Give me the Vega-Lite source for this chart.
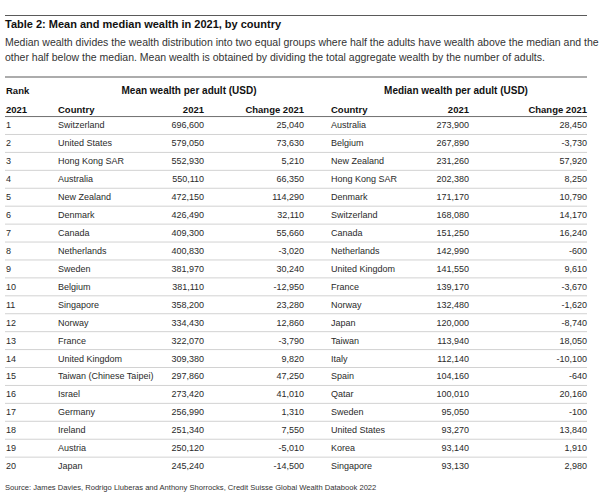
{
  "$schema": "https://vega.github.io/schema/vega-lite/v6.json",
  "width": 603,
  "height": 500,
  "autosize": {"type": "none"},
  "padding": 0,
  "background": "white",
  "config": {
    "view": {"stroke": null},
    "font": "Liberation Sans",
    "text": {"font": "Liberation Sans"},
    "locale": {"number": {"decimal": ".", "thousands": ",", "grouping": [3], "currency": ["$", ""], "minus": "-"}}
  },
  "data": {
    "values": [
      {"rank": 1, "country": "Switzerland", "mean": 696600, "mean_change": 25040, "median_country": "Australia", "median": 273900, "median_change": 28450},
      {"rank": 2, "country": "United States", "mean": 579050, "mean_change": 73630, "median_country": "Belgium", "median": 267890, "median_change": -3730},
      {"rank": 3, "country": "Hong Kong SAR", "mean": 552930, "mean_change": 5210, "median_country": "New Zealand", "median": 231260, "median_change": 57920},
      {"rank": 4, "country": "Australia", "mean": 550110, "mean_change": 66350, "median_country": "Hong Kong SAR", "median": 202380, "median_change": 8250},
      {"rank": 5, "country": "New Zealand", "mean": 472150, "mean_change": 114290, "median_country": "Denmark", "median": 171170, "median_change": 10790},
      {"rank": 6, "country": "Denmark", "mean": 426490, "mean_change": 32110, "median_country": "Switzerland", "median": 168080, "median_change": 14170},
      {"rank": 7, "country": "Canada", "mean": 409300, "mean_change": 55660, "median_country": "Canada", "median": 151250, "median_change": 16240},
      {"rank": 8, "country": "Netherlands", "mean": 400830, "mean_change": -3020, "median_country": "Netherlands", "median": 142990, "median_change": -600},
      {"rank": 9, "country": "Sweden", "mean": 381970, "mean_change": 30240, "median_country": "United Kingdom", "median": 141550, "median_change": 9610},
      {"rank": 10, "country": "Belgium", "mean": 381110, "mean_change": -12950, "median_country": "France", "median": 139170, "median_change": -3670},
      {"rank": 11, "country": "Singapore", "mean": 358200, "mean_change": 23280, "median_country": "Norway", "median": 132480, "median_change": -1620},
      {"rank": 12, "country": "Norway", "mean": 334430, "mean_change": 12860, "median_country": "Japan", "median": 120000, "median_change": -8740},
      {"rank": 13, "country": "France", "mean": 322070, "mean_change": -3790, "median_country": "Taiwan", "median": 113940, "median_change": 18050},
      {"rank": 14, "country": "United Kingdom", "mean": 309380, "mean_change": 9820, "median_country": "Italy", "median": 112140, "median_change": -10100},
      {"rank": 15, "country": "Taiwan (Chinese Taipei)", "mean": 297860, "mean_change": 47250, "median_country": "Spain", "median": 104160, "median_change": -640},
      {"rank": 16, "country": "Israel", "mean": 273420, "mean_change": 41010, "median_country": "Qatar", "median": 100010, "median_change": 20160},
      {"rank": 17, "country": "Germany", "mean": 256990, "mean_change": 1310, "median_country": "Sweden", "median": 95050, "median_change": -100},
      {"rank": 18, "country": "Ireland", "mean": 251340, "mean_change": 7550, "median_country": "United States", "median": 93270, "median_change": 13840},
      {"rank": 19, "country": "Austria", "mean": 250120, "mean_change": -5010, "median_country": "Korea", "median": 93140, "median_change": 1910},
      {"rank": 20, "country": "Japan", "mean": 245240, "mean_change": -14500, "median_country": "Singapore", "median": 93130, "median_change": 2980}
    ]
  },
  "layer": [
    {
      "data": {"values": [{}]},
      "mark": {"type": "rule", "color": "#5a5a5a", "strokeWidth": 1.2, "yOffset": 15.5},
      "encoding": {
        "x": {"datum": 0, "type": "quantitative", "axis": null, "scale": {"domain": [0, 1, 2, 3, 4, 5, 6, 7, 8, 9], "range": [5, 6, 58, 189, 204, 304, 331, 456, 469, 587], "nice": false, "zero": false}},
        "x2": {"datum": 9},
        "y": {"datum": "L0", "type": "ordinal", "axis": null, "scale": {"type": "point", "padding": 0, "range": [0, 484], "domain": ["L0", "T", "S1", "S2", "L1", "h1", "h2", 1, 2, 3, 4, 5, 6, 7, 8, 9, 10, 11, 12, 13, 14, 15, 16, 17, 18, 19, 20, "src"]}}
      }
    },
    {
      "data": {"values": [{}]},
      "mark": {"type": "rule", "color": "#5a5a5a", "strokeWidth": 1.2, "yOffset": 5.3},
      "encoding": {"x": {"datum": 0, "type": "quantitative"}, "x2": {"datum": 9}, "y": {"datum": "L1", "type": "ordinal"}}
    },
    {
      "data": {"values": [{}]},
      "mark": {"type": "rule", "color": "#707070", "strokeWidth": 1, "yOffset": 9},
      "encoding": {"x": {"datum": 0, "type": "quantitative"}, "x2": {"datum": 9}, "y": {"datum": "h2", "type": "ordinal"}}
    },
    {
      "transform": [{"filter": "datum.rank < 20"}],
      "mark": {"type": "rule", "color": "#d2d2d2", "strokeWidth": 1, "yOffset": 9},
      "encoding": {"x": {"datum": 0, "type": "quantitative"}, "x2": {"datum": 9}, "y": {"field": "rank", "type": "ordinal"}}
    },
    {
      "data": {"values": [{}]},
      "mark": {"type": "text", "text": "Table 2: Mean and median wealth in 2021, by country", "align": "left", "baseline": "middle", "fontSize": 11, "fontWeight": "bold", "color": "#111111", "yOffset": 7},
      "encoding": {"x": {"datum": 0, "type": "quantitative"}, "y": {"datum": "T", "type": "ordinal"}}
    },
    {
      "data": {"values": [{}]},
      "mark": {"type": "text", "text": "Median wealth divides the wealth distribution into two equal groups where half the adults have wealth above the median and the", "align": "left", "baseline": "middle", "fontSize": 10.5, "color": "#333333", "yOffset": 7},
      "encoding": {"x": {"datum": 0, "type": "quantitative"}, "y": {"datum": "S1", "type": "ordinal"}}
    },
    {
      "data": {"values": [{}]},
      "mark": {"type": "text", "text": "other half below the median. Mean wealth is obtained by dividing the total aggregate wealth by the number of adults.", "align": "left", "baseline": "middle", "fontSize": 10.5, "color": "#333333", "yOffset": 4},
      "encoding": {"x": {"datum": 0, "type": "quantitative"}, "y": {"datum": "S2", "type": "ordinal"}}
    },
    {
      "data": {"values": [{}]},
      "mark": {"type": "text", "text": "Rank", "align": "left", "baseline": "middle", "fontSize": 9.5, "fontWeight": "bold", "color": "#111111", "yOffset": 1.5},
      "encoding": {"x": {"datum": 1, "type": "quantitative"}, "y": {"datum": "h1", "type": "ordinal"}}
    },
    {
      "data": {"values": [{}]},
      "mark": {"type": "text", "text": "Mean wealth per adult (USD)", "align": "center", "baseline": "middle", "fontSize": 10, "fontWeight": "bold", "color": "#111111", "yOffset": 1.5},
      "encoding": {"x": {"datum": 3, "type": "quantitative"}, "y": {"datum": "h1", "type": "ordinal"}}
    },
    {
      "data": {"values": [{}]},
      "mark": {"type": "text", "text": "Median wealth per adult (USD)", "align": "center", "baseline": "middle", "fontSize": 10, "fontWeight": "bold", "color": "#111111", "yOffset": 1.5},
      "encoding": {"x": {"datum": 7, "type": "quantitative"}, "y": {"datum": "h1", "type": "ordinal"}}
    },
    {
      "data": {"values": [{}]},
      "mark": {"type": "text", "text": "2021", "align": "left", "baseline": "middle", "fontSize": 9.5, "fontWeight": "bold", "color": "#111111", "yOffset": 2.5},
      "encoding": {"x": {"datum": 1, "type": "quantitative"}, "y": {"datum": "h2", "type": "ordinal"}}
    },
    {
      "data": {"values": [{}]},
      "mark": {"type": "text", "text": "Country", "align": "left", "baseline": "middle", "fontSize": 9.5, "fontWeight": "bold", "color": "#111111", "yOffset": 2.5},
      "encoding": {"x": {"datum": 2, "type": "quantitative"}, "y": {"datum": "h2", "type": "ordinal"}}
    },
    {
      "data": {"values": [{}]},
      "mark": {"type": "text", "text": "2021", "align": "right", "baseline": "middle", "fontSize": 9.5, "fontWeight": "bold", "color": "#111111", "yOffset": 2.5},
      "encoding": {"x": {"datum": 4, "type": "quantitative"}, "y": {"datum": "h2", "type": "ordinal"}}
    },
    {
      "data": {"values": [{}]},
      "mark": {"type": "text", "text": "Change 2021", "align": "right", "baseline": "middle", "fontSize": 9.5, "fontWeight": "bold", "color": "#111111", "yOffset": 2.5},
      "encoding": {"x": {"datum": 5, "type": "quantitative"}, "y": {"datum": "h2", "type": "ordinal"}}
    },
    {
      "data": {"values": [{}]},
      "mark": {"type": "text", "text": "Country", "align": "left", "baseline": "middle", "fontSize": 9.5, "fontWeight": "bold", "color": "#111111", "yOffset": 2.5},
      "encoding": {"x": {"datum": 6, "type": "quantitative"}, "y": {"datum": "h2", "type": "ordinal"}}
    },
    {
      "data": {"values": [{}]},
      "mark": {"type": "text", "text": "2021", "align": "right", "baseline": "middle", "fontSize": 9.5, "fontWeight": "bold", "color": "#111111", "yOffset": 2.5},
      "encoding": {"x": {"datum": 8, "type": "quantitative"}, "y": {"datum": "h2", "type": "ordinal"}}
    },
    {
      "data": {"values": [{}]},
      "mark": {"type": "text", "text": "Change 2021", "align": "right", "baseline": "middle", "fontSize": 9.5, "fontWeight": "bold", "color": "#111111", "yOffset": 2.5},
      "encoding": {"x": {"datum": 9, "type": "quantitative"}, "y": {"datum": "h2", "type": "ordinal"}}
    },
    {
      "mark": {"type": "text", "align": "left", "baseline": "middle", "fontSize": 9, "color": "#2a2a2a"},
      "encoding": {"x": {"datum": 1, "type": "quantitative"}, "y": {"field": "rank", "type": "ordinal"}, "text": {"field": "rank", "type": "quantitative", "format": "d"}}
    },
    {
      "mark": {"type": "text", "align": "left", "baseline": "middle", "fontSize": 9, "color": "#2a2a2a"},
      "encoding": {"x": {"datum": 2, "type": "quantitative"}, "y": {"field": "rank", "type": "ordinal"}, "text": {"field": "country", "type": "nominal"}}
    },
    {
      "mark": {"type": "text", "align": "right", "baseline": "middle", "fontSize": 9, "color": "#2a2a2a"},
      "encoding": {"x": {"datum": 4, "type": "quantitative"}, "y": {"field": "rank", "type": "ordinal"}, "text": {"field": "mean", "type": "quantitative", "format": ",d"}}
    },
    {
      "mark": {"type": "text", "align": "right", "baseline": "middle", "fontSize": 9, "color": "#2a2a2a"},
      "encoding": {"x": {"datum": 5, "type": "quantitative"}, "y": {"field": "rank", "type": "ordinal"}, "text": {"field": "mean_change", "type": "quantitative", "format": ",d"}}
    },
    {
      "mark": {"type": "text", "align": "left", "baseline": "middle", "fontSize": 9, "color": "#2a2a2a"},
      "encoding": {"x": {"datum": 6, "type": "quantitative"}, "y": {"field": "rank", "type": "ordinal"}, "text": {"field": "median_country", "type": "nominal"}}
    },
    {
      "mark": {"type": "text", "align": "right", "baseline": "middle", "fontSize": 9, "color": "#2a2a2a"},
      "encoding": {"x": {"datum": 8, "type": "quantitative"}, "y": {"field": "rank", "type": "ordinal"}, "text": {"field": "median", "type": "quantitative", "format": ",d"}}
    },
    {
      "mark": {"type": "text", "align": "right", "baseline": "middle", "fontSize": 9, "color": "#2a2a2a"},
      "encoding": {"x": {"datum": 9, "type": "quantitative"}, "y": {"field": "rank", "type": "ordinal"}, "text": {"field": "median_change", "type": "quantitative", "format": ",d"}}
    },
    {
      "data": {"values": [{}]},
      "mark": {"type": "text", "text": "Source: James Davies, Rodrigo Lluberas and Anthony Shorrocks, Credit Suisse Global Wealth Databook 2022", "align": "left", "baseline": "middle", "fontSize": 7.6, "color": "#333333", "yOffset": 4},
      "encoding": {"x": {"datum": 0, "type": "quantitative"}, "y": {"datum": "src", "type": "ordinal"}}
    }
  ]
}
